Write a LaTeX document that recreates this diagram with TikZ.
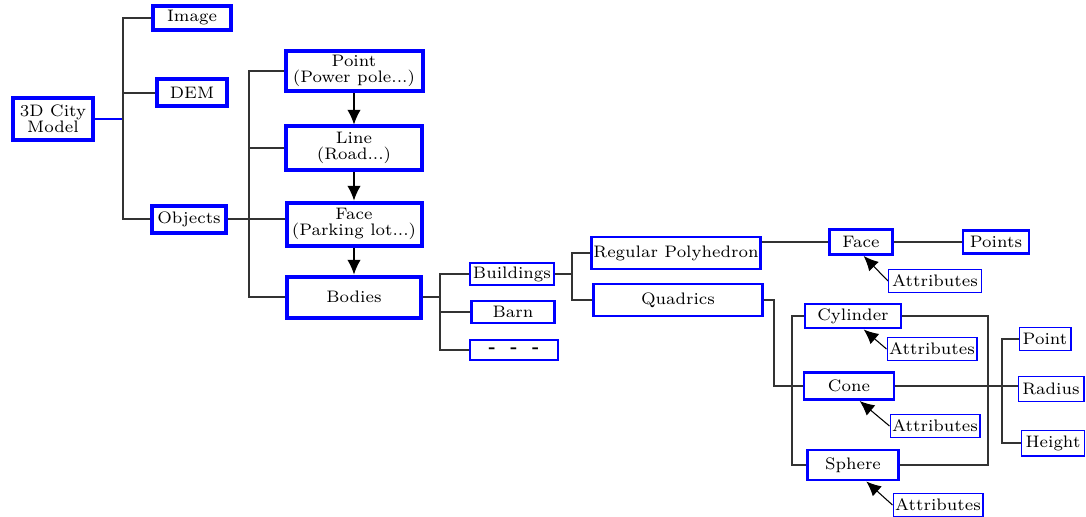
\documentclass[tikz,border=0pt]{standalone}
\usetikzlibrary{arrows.meta}
\pgfdeclarelayer{bg}
\pgfsetlayers{bg,main}
\font\lmsev="[lmroman7-regular]" at 12.5pt
\font\lmsevb="[lmroman7-bold]" at 12.5pt
\tikzset{
  box/.style={draw=blue, line width=3pt, inner sep=0pt, align=center, font=\lmsev},
  midbox/.style={box, line width=2.2pt},
  thinbox/.style={box, line width=1pt},
  link/.style={draw=black!80, line width=0.8pt},
  arr/.style={draw=black, line width=0.8pt, -{Latex[length=11pt,width=10pt]}}
}

\begin{document}
\begin{tikzpicture}[x=0.75pt,y=-0.75pt]
  \useasboundingbox (0,0) rectangle (1086,517);

  \node (city) [box, minimum width=60pt, minimum height=31.5pt] at (53,119) {3D City\\Model};
  \node (image) [box, minimum width=58.5pt, minimum height=18pt] at (192,18) {Image};
  \node (dem) [box, minimum width=52.5pt, minimum height=20.25pt] at (192,93) {DEM};
  \node (objects) [box, minimum width=55.5pt, minimum height=20.25pt] at (189,219) {Objects};

  \node (point) [box, minimum width=102.75pt, minimum height=30pt] at (354,71) {Point\\(Power pole...)};
  \node (line) [box, minimum width=102pt, minimum height=32.25pt] at (354,148) {Line\\(Road...)};
  \node (face) [box, minimum width=101.25pt, minimum height=32.25pt] at (354,224) {Face\\(Parking lot...)};
  \node (bodies) [box, minimum width=100.5pt, minimum height=30.75pt] at (354,297) {Bodies};

  \node (buildings) [midbox, minimum width=63pt, minimum height=16.5pt] at (512,274) {Buildings};
  \node (barn) [midbox, minimum width=62.3pt, minimum height=16.5pt] at (513,312) {Barn};
  \node (dots) [midbox, minimum width=66pt, minimum height=15pt, font=\lmsevb] at (514,350) {-\ \ -\ \ -};

  \node (regpoly) [midbox, minimum width=126.8pt, minimum height=24pt] at (676,253) {Regular Polyhedron};
  \node (quadrics) [midbox, minimum width=126.8pt, minimum height=24pt] at (678,300) {Quadrics};

  \node (faceb) [midbox, minimum width=47.3pt, minimum height=18.8pt] at (861,242) {Face};
  \node (points) [midbox, minimum width=49.5pt, minimum height=17.3pt] at (996,242) {Points};
  \node (attra) [thinbox, minimum width=69.5pt, minimum height=17pt] at (935,281) {Attributes};

  \node (cylinder) [midbox, minimum width=72pt, minimum height=18pt] at (853,316) {Cylinder};
  \node (cone) [midbox, minimum width=67.5pt, minimum height=20.3pt] at (849,386) {Cone};
  \node (sphere) [midbox, minimum width=68.3pt, minimum height=22.5pt] at (853,465) {Sphere};
  \node (attrb) [thinbox, minimum width=67.25pt, minimum height=17pt] at (932,349) {Attributes};
  \node (attrc) [thinbox, minimum width=67.25pt, minimum height=17pt] at (935,426) {Attributes};
  \node (attrd) [thinbox, minimum width=67.25pt, minimum height=17pt] at (938,505) {Attributes};

  \node (pointb) [thinbox, minimum width=38.75pt, minimum height=17pt] at (1045,339) {Point};
  \node (radius) [thinbox, minimum width=49.25pt, minimum height=18.5pt] at (1051,389) {Radius};
  \node (height) [thinbox, minimum width=47pt, minimum height=19.25pt] at (1053,443) {Height};

  \coordinate (t1) at (123,0); \coordinate (t2) at (249,0);
  \coordinate (t3) at (440,0); \coordinate (t4) at (572,0);
  \coordinate (t5) at (774,0); \coordinate (t6) at (792,0);
  \coordinate (t7) at (988,0); \coordinate (t8) at (1002,0);

  \begin{pgfonlayer}{bg}
    \draw [blue, line width=1.5pt] (city.east) -- (city.east -| t1);
    \draw [link] (image.west) -- (image.west -| t1) |- (objects.west);
    \draw [link] (dem.west) -- (dem.west -| t1);
    \draw [link] (point.west) -- (point.west -| t2) |- (bodies.west);
    \draw [link] (line.west) -- (line.west -| t2);
    \draw [link] (objects.east) -- (objects.east -| face.west);
    \draw [arr] (point) -- (line); \draw [arr] (line) -- (face); \draw [arr] (face) -- (bodies);
    \draw [link] (bodies.east) -- (bodies.east -| t3);
    \draw [link] (buildings.west) -- (buildings.west -| t3) |- (dots.west);
    \draw [link] (barn.west) -- (barn.west -| t3);
    \draw [link] (buildings.east) -- (buildings.east -| t4);
    \draw [link] (regpoly.west) -- (regpoly.west -| t4) |- (quadrics.west);
    \draw [link] (regpoly.east |- faceb.west) -- (faceb.west); \draw [link] (faceb) -- (points);
    \draw [link] (quadrics.east) -- (quadrics.east -| t5) |- (cone.west);
    \draw [link] (cylinder.west) -- (cylinder.west -| t6) |- (sphere.west);
    \draw [link] (cylinder.east) -- (cylinder.east -| t7) |- (sphere.east);
    \draw [link] (cone.east) -- (cone.east -| radius.west);
    \draw [link] (pointb.west) -- (pointb.west -| t8) |- (height.west);
    \draw [arr] (attra.west) -- ([xshift=2pt]faceb.south);
    \draw [arr] (attrb.west) -- ([xshift=8pt]cylinder.south);
    \draw [arr] (attrc.west) -- ([xshift=8pt]cone.south);
    \draw [arr] (attrd.west) -- ([xshift=10pt]sphere.south);
  \end{pgfonlayer}

\end{tikzpicture}
\end{document}
